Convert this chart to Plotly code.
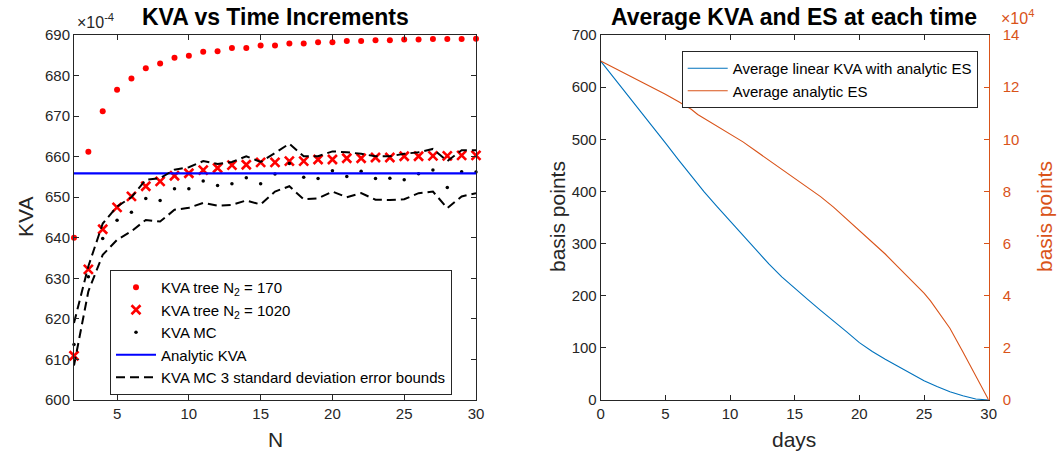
import plotly.graph_objects as go

# ---------------- Left panel data (values shown in units of 1e-4) ----------------
N = list(range(2, 31))
kva_tree_170 = [640.0, 661.2, 671.2, 676.5, 679.3, 681.8, 683.0, 684.4, 684.9, 685.9,
                686.0, 686.8, 686.8, 687.4, 687.4, 687.9, 687.9, 688.2, 688.2, 688.5,
                688.5, 688.7, 688.7, 688.9, 688.9, 689.0, 689.0, 689.0, 689.1]
kva_tree_1020 = [610.9, 632.2, 642.1, 647.5, 650.2, 652.7, 653.9, 655.3, 655.9, 656.7,
                 657.2, 657.9, 658.0, 658.6, 658.6, 658.9, 658.9, 659.3, 659.3, 659.6,
                 659.6, 659.8, 659.8, 660.1, 660.1, 660.2, 660.2, 660.3, 660.3]
kva_mc = [613.7, 630.4, 639.8, 644.3, 646.3, 649.7, 649.2, 652.1, 652.1, 654.0,
          652.9, 653.3, 654.8, 653.3, 655.7, 658.3, 654.9, 654.6, 656.5, 655.1,
          656.4, 654.6, 654.7, 654.3, 655.8, 656.7, 652.4, 656.3, 656.2]
mc_upper = [619.0, 633.0, 643.5, 647.7, 650.0, 654.3, 654.7, 656.8, 657.4, 658.9,
            658.2, 658.7, 660.1, 658.7, 660.9, 663.2, 660.1, 660.1, 661.3, 661.1,
            660.7, 660.1, 660.1, 660.7, 661.1, 661.9, 658.9, 661.6, 661.6]
mc_lower = [608.5, 626.8, 635.8, 639.5, 641.6, 644.4, 644.0, 646.9, 647.4, 648.6,
            647.9, 648.1, 649.2, 648.2, 651.4, 652.7, 649.5, 649.7, 651.4, 650.0,
            651.0, 649.4, 649.3, 649.5, 651.0, 651.4, 647.3, 650.2, 651.0]
analytic_kva = 655.9
left_xticks = [5, 10, 15, 20, 25, 30]
left_yticks = list(range(600, 691, 10))

# ---------------- Right panel data ----------------
days = list(range(0, 31))
avg_kva = [650, 619, 588, 557, 525, 493, 461, 429, 399, 371,
           343, 315, 287, 261, 236, 214, 193, 172, 152, 131,
           110, 93, 78, 64, 50, 37, 26, 16, 8, 2, 0]
es_days = [0, 1, 2, 3, 4, 5, 6, 7, 7.5, 8, 9, 10, 11, 12, 13, 14, 15, 16, 17, 18,
           19, 20, 21, 22, 23, 24, 25, 25.5, 26, 27, 28, 29, 30]
avg_es = [13.0, 12.75, 12.49, 12.24, 11.99, 11.73, 11.45, 11.15, 10.95, 10.8, 10.48,
          10.2, 9.9, 9.55, 9.2, 8.82, 8.5, 8.15, 7.8, 7.4, 6.95, 6.5, 6.07, 5.6,
          5.1, 4.6, 4.1, 3.8, 3.45, 2.75, 1.85, 0.95, 0.0]  # units of 1e4
right_xticks = [0, 5, 10, 15, 20, 25, 30]
right_yticks = list(range(0, 701, 100))
es_ticks = list(range(0, 15, 2))

FONT = "Liberation Sans, Arial, Helvetica, sans-serif"
AX = "#262626"
BLUE = "#0072BD"
ORANGE = "#D95319"
W, H = 1064, 458

fig = go.Figure()

# Left panel traces
fig.add_trace(go.Scatter(x=N, y=kva_tree_170, mode="markers", name="KVA tree N<sub>2</sub> = 170",
                         marker=dict(color="#FF0000", size=6, symbol="circle"),
                         cliponaxis=False, xaxis="x", yaxis="y", legend="legend"))
fig.add_trace(go.Scatter(x=N, y=kva_tree_1020, mode="markers", name="KVA tree N<sub>2</sub> = 1020",
                         marker=dict(color="#FF0000", size=9, symbol="x-thin-open",
                                     line=dict(color="#FF0000", width=2.6)),
                         cliponaxis=False, xaxis="x", yaxis="y", legend="legend"))
fig.add_trace(go.Scatter(x=N, y=kva_mc, mode="markers", name="KVA MC",
                         marker=dict(color="#000000", size=3.5, symbol="circle"),
                         cliponaxis=False, xaxis="x", yaxis="y", legend="legend"))
fig.add_trace(go.Scatter(x=[N[0], N[-1]], y=[analytic_kva, analytic_kva], mode="lines",
                         name="Analytic KVA", line=dict(color="#0000FF", width=2.2),
                         xaxis="x", yaxis="y", legend="legend"))
fig.add_trace(go.Scatter(x=N, y=mc_upper, mode="lines",
                         name="KVA MC 3 standard deviation error bounds",
                         line=dict(color="#000000", width=2, dash="9px,5px"),
                         xaxis="x", yaxis="y", legend="legend"))
fig.add_trace(go.Scatter(x=N, y=mc_lower, mode="lines", showlegend=False,
                         line=dict(color="#000000", width=2, dash="9px,5px"),
                         xaxis="x", yaxis="y"))

# Right panel traces
fig.add_trace(go.Scatter(x=days, y=avg_kva, mode="lines", name="Average linear KVA with analytic ES",
                         line=dict(color=BLUE, width=1.1), xaxis="x2", yaxis="y2", legend="legend2"))
fig.add_trace(go.Scatter(x=es_days, y=avg_es, mode="lines", name="Average analytic ES",
                         line=dict(color=ORANGE, width=1.1), xaxis="x2", yaxis="y3", legend="legend2"))

lx0, lx1 = 74 / W, 476 / W
rx0, rx1 = 600.7 / W, 988.7 / W
yd0, yd1 = 1 - 400 / H, 1 - 35 / H

tickfont = dict(family=FONT, size=15, color=AX)
common = dict(showline=True, linecolor=AX, linewidth=1, ticks="inside", ticklen=5,
              tickcolor=AX, showgrid=False, zeroline=False, tickfont=tickfont, automargin=False)

fig.update_layout(
    width=W, height=H, margin=dict(l=0, r=0, t=0, b=0, pad=0, autoexpand=False),
    paper_bgcolor="white", plot_bgcolor="white",
    font=dict(family=FONT, color=AX),
    xaxis=dict(domain=[lx0, lx1], range=[2, 30], tickvals=left_xticks, mirror="ticks",
               anchor="y", **common),
    yaxis=dict(domain=[yd0, yd1], range=[600, 690], tickvals=left_yticks, mirror="ticks",
               anchor="x", **common),
    xaxis2=dict(domain=[rx0, rx1], range=[0, 30], tickvals=right_xticks, mirror="ticks",
                anchor="y2", **common),
    yaxis2=dict(domain=[yd0, yd1], range=[0, 700], tickvals=right_yticks, anchor="x2",
                side="left", **common),
    yaxis3=dict(range=[0, 14], tickvals=es_ticks, overlaying="y2", anchor="x2", side="right",
                showline=True, linecolor=ORANGE, linewidth=1, ticks="inside", ticklen=5,
                tickcolor=ORANGE, showgrid=False, zeroline=False, automargin=False,
                ticklabelstandoff=10,
                tickfont=dict(family=FONT, size=15, color=ORANGE)),
    legend=dict(x=110 / W, y=1 - 270 / H, xanchor="left", yanchor="top",
                bgcolor="white", bordercolor=AX, borderwidth=1,
                font=dict(family=FONT, size=15, color="#000000"),
                tracegroupgap=0, itemwidth=40),
    legend2=dict(x=681.7 / W, y=1 - 51 / H, xanchor="left", yanchor="top",
                 bgcolor="white", bordercolor=AX, borderwidth=1,
                 font=dict(family=FONT, size=15, color="#000000"),
                 tracegroupgap=0, itemwidth=40),
    showlegend=True,
)

ann = [
    dict(text="<b>KVA vs Time Increments</b>", x=275 / W, y=1 - 17 / H, xref="paper", yref="paper",
         showarrow=False, font=dict(family=FONT, size=23, color="#000000"), xanchor="center", yanchor="middle"),
    dict(text="<b>Average KVA and ES at each time</b>", x=794 / W, y=1 - 17 / H, xref="paper", yref="paper",
         showarrow=False, font=dict(family=FONT, size=23, color="#000000"), xanchor="center", yanchor="middle"),
    dict(text="×10<sup>-4</sup>", x=75 / W, y=1 - 21 / H, xref="paper", yref="paper", showarrow=False,
         font=dict(family=FONT, size=16, color=AX), xanchor="left", yanchor="middle"),
    dict(text="×10<sup>4</sup>", x=999 / W, y=1 - 17 / H, xref="paper", yref="paper", showarrow=False,
         font=dict(family=FONT, size=16, color=ORANGE), xanchor="left", yanchor="middle"),
    dict(text="KVA", x=26 / W, y=1 - 217 / H, xref="paper", yref="paper", showarrow=False, textangle=-90,
         font=dict(family=FONT, size=21, color=AX), xanchor="center", yanchor="middle"),
    dict(text="N", x=275 / W, y=1 - 439 / H, xref="paper", yref="paper", showarrow=False,
         font=dict(family=FONT, size=21, color=AX), xanchor="center", yanchor="middle"),
    dict(text="days", x=794 / W, y=1 - 439 / H, xref="paper", yref="paper", showarrow=False,
         font=dict(family=FONT, size=21, color=AX), xanchor="center", yanchor="middle"),
    dict(text="basis points", x=558 / W, y=1 - 217 / H, xref="paper", yref="paper", showarrow=False,
         textangle=-90, font=dict(family=FONT, size=21, color=AX), xanchor="center", yanchor="middle"),
    dict(text="basis points", x=1045 / W, y=1 - 217 / H, xref="paper", yref="paper", showarrow=False,
         textangle=-90, font=dict(family=FONT, size=21, color=ORANGE), xanchor="center", yanchor="middle"),
]
fig.update_layout(annotations=ann)

fig.write_html("out.html")
